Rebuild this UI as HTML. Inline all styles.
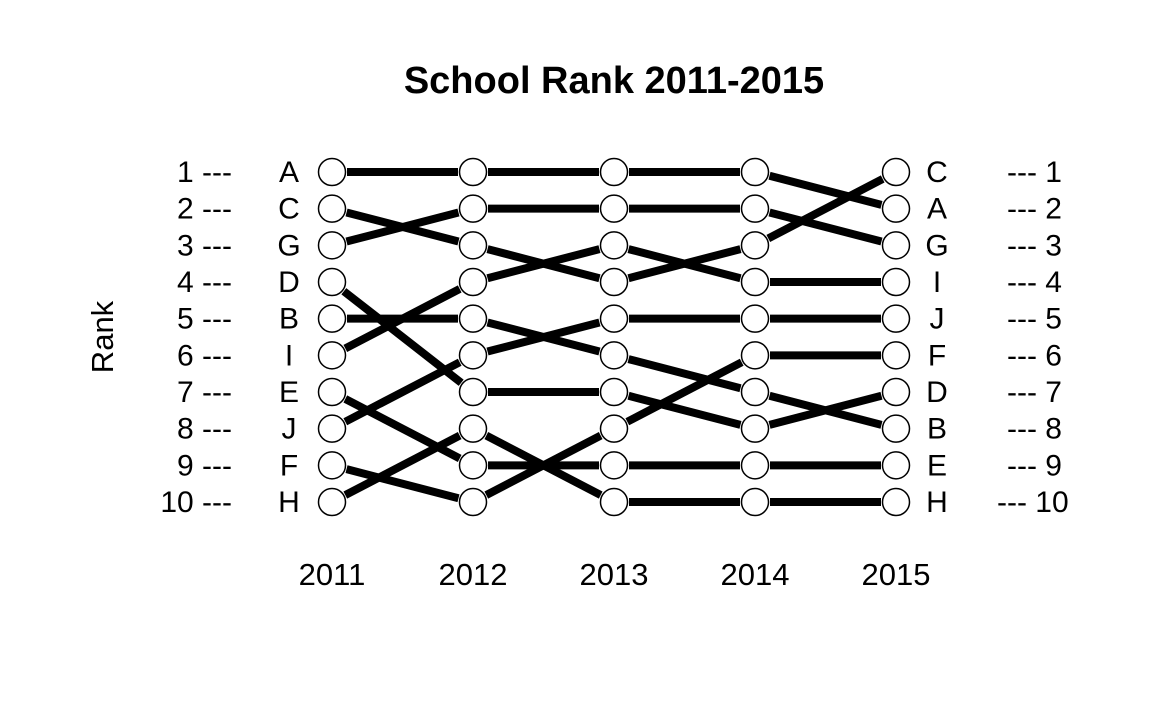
<!DOCTYPE html>
<html><head><meta charset="utf-8"><style>
body{margin:0;background:#fff;}
svg text{font-family:"Liberation Sans",Arial,sans-serif;fill:#000;}
</style></head><body>
<svg width="1152" height="711" viewBox="0 0 1152 711">
<defs><clipPath id="clip"><rect x="0" y="0" width="1071" height="711"/></clipPath></defs>
<text x="614" y="93" text-anchor="middle" font-size="38" font-weight="bold">School Rank 2011-2015</text>
<text transform="translate(113,337) rotate(-90)" text-anchor="middle" font-size="31">Rank</text>
<g id="marks" clip-path="url(#clip)"></g>
</svg>
<script>
const years = ["2011","2012","2013","2014","2015"];
const ranks2011 = ["A","C","G","D","B","I","E","J","F","H"];
const ranks2012 = ["A","G","C","I","B","J","D","H","E","F"];
const ranks2013 = ["A","G","I","C","J","B","D","F","E","H"];
const ranks2014 = ["A","G","C","I","J","F","B","D","E","H"];
const ranks2015 = ["C","A","G","I","J","F","D","B","E","H"];
const rankings = [ranks2011, ranks2012, ranks2013, ranks2014, ranks2015];
const ns = "http://www.w3.org/2000/svg";
const g = document.getElementById("marks");
const xs = i => 332 + i * 141;
const ys = r => 172 + (r - 1) * (330 / 9);
function mk(tag, attrs){const e=document.createElementNS(ns,tag);for(const k in attrs)e.setAttribute(k,attrs[k]);g.appendChild(e);return e;}
for(let i=0;i<rankings.length-1;i++){
  rankings[i].forEach((s,r)=>{
    const r2 = rankings[i+1].indexOf(s);
    const x1=xs(i),x2=xs(i+1),y1=ys(r+1),y2=ys(r2+1);
    const dx=x2-x1,dy=y2-y1,len=Math.hypot(dx,dy),o=15;
    const l=mk("line",{x1:x1+dx*o/len,y1:y1+dy*o/len,x2:x2-dx*o/len,y2:y2-dy*o/len,stroke:"#000","stroke-width":8});
    
    
  });
}
rankings.forEach((col,i)=>{
  col.forEach((s,r)=>{
    const c=mk("circle",{cx:xs(i),cy:ys(r+1),r:13.5,fill:"#fff",stroke:"#000","stroke-width":1.5});
    
    
  });
  const t=mk("text",{x:xs(i),y:585,"text-anchor":"middle","font-size":31});
  t.textContent=years[i];
  
  
});
for(let r=1;r<=10;r++){
  const y=ys(r)+10;
  let t=mk("text",{x:232,y:y,"text-anchor":"end","font-size":30});t.textContent=r+" ---";
  
  
  t=mk("text",{x:289,y:y,"text-anchor":"middle","font-size":30});t.textContent=ranks2011[r-1];
  
  
  t=mk("text",{x:937,y:y,"text-anchor":"middle","font-size":30});t.textContent=ranks2015[r-1];
  
  
  t=mk("text",{x:r<10?1007:997,y:y,"font-size":30});t.textContent="--- "+r;
  
  
}
</script>
</body></html>
